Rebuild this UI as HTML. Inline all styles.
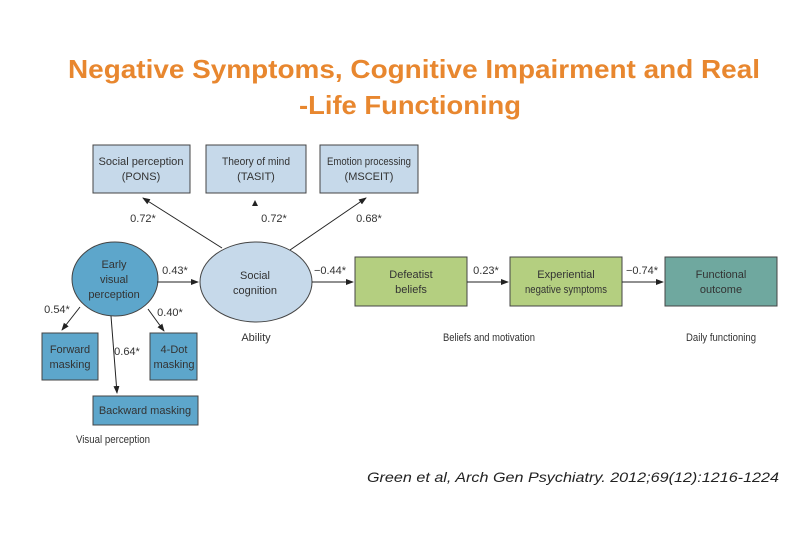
<!DOCTYPE html>
<html><head><meta charset="utf-8"><style>
html,body{margin:0;padding:0;background:#fff;}
svg{display:block;}
</style></head><body>
<svg width="810" height="540" viewBox="0 0 810 540" xmlns="http://www.w3.org/2000/svg">
<defs>
<marker id="a" markerWidth="8" markerHeight="8" refX="7" refY="4" orient="auto" markerUnits="userSpaceOnUse">
<path d="M0,1 L8,4 L0,7 z" fill="#222"/></marker>
</defs>
<g font-family="Liberation Sans, sans-serif" font-weight="bold" fill="#e8872f" font-size="26" text-anchor="middle">
<text x="414" y="78" textLength="692" lengthAdjust="spacingAndGlyphs">Negative Symptoms, Cognitive Impairment and Real</text>
<text x="410" y="114" textLength="222" lengthAdjust="spacingAndGlyphs">-Life Functioning</text>
</g>
<g stroke="#444" stroke-width="1">
<rect x="93" y="145" width="97" height="48" fill="#c6d9ea"/>
<rect x="206" y="145" width="100" height="48" fill="#c6d9ea"/>
<rect x="320" y="145" width="98" height="48" fill="#c6d9ea"/>
<ellipse cx="115" cy="279" rx="43" ry="37" fill="#5da6cb"/>
<ellipse cx="256" cy="282" rx="56" ry="40" fill="#c6d9ea"/>
<rect x="355" y="257" width="112" height="49" fill="#b4cf80"/>
<rect x="510" y="257" width="112" height="49" fill="#b4cf80"/>
<rect x="665" y="257" width="112" height="49" fill="#6fa89f"/>
<rect x="42" y="333" width="56" height="47" fill="#5da6cb"/>
<rect x="150" y="333" width="47" height="47" fill="#5da6cb"/>
<rect x="93" y="396" width="105" height="29" fill="#5da6cb"/>
</g>
<g stroke="#222" stroke-width="1" fill="none" marker-end="url(#a)">
<line x1="222" y1="248" x2="143" y2="198"/>
<line x1="290" y1="250" x2="366" y2="198"/>
<line x1="157" y1="282" x2="198" y2="282"/>
<line x1="312" y1="282" x2="353" y2="282"/>
<line x1="467" y1="282" x2="508" y2="282"/>
<line x1="622" y1="282" x2="663" y2="282"/>
<line x1="80" y1="307" x2="62" y2="330"/>
<line x1="148" y1="309" x2="164" y2="331"/>
<line x1="111" y1="316" x2="117" y2="393"/>
</g>
<path d="M255,200 L258,206 L252,206 z" fill="#222"/>
<g font-family="Liberation Sans, sans-serif" font-size="11" fill="#333" text-anchor="middle">
<text x="141" y="165" textLength="85" lengthAdjust="spacingAndGlyphs">Social perception</text>
<text x="141" y="180">(PONS)</text>
<text x="256" y="165" textLength="68" lengthAdjust="spacingAndGlyphs">Theory of mind</text>
<text x="256" y="180">(TASIT)</text>
<text x="369" y="165" textLength="84" lengthAdjust="spacingAndGlyphs">Emotion processing</text>
<text x="369" y="180">(MSCEIT)</text>
<text x="143" y="222">0.72*</text>
<text x="274" y="222">0.72*</text>
<text x="369" y="222">0.68*</text>
<text x="114" y="268">Early</text>
<text x="114" y="283">visual</text>
<text x="114" y="298">perception</text>
<text x="255" y="279">Social</text>
<text x="255" y="294">cognition</text>
<text x="175" y="274">0.43*</text>
<text x="330" y="274">−0.44*</text>
<text x="486" y="274">0.23*</text>
<text x="642" y="274">−0.74*</text>
<text x="411" y="278">Defeatist</text>
<text x="411" y="293">beliefs</text>
<text x="566" y="278">Experiential</text>
<text x="566" y="293" textLength="82" lengthAdjust="spacingAndGlyphs">negative symptoms</text>
<text x="721" y="278">Functional</text>
<text x="721" y="293">outcome</text>
<text x="57" y="313">0.54*</text>
<text x="170" y="316">0.40*</text>
<text x="127" y="355">0.64*</text>
<text x="70" y="353">Forward</text>
<text x="70" y="368">masking</text>
<text x="174" y="353">4-Dot</text>
<text x="174" y="368">masking</text>
<text x="145" y="414">Backward masking</text>
<text x="256" y="341">Ability</text>
<text x="489" y="341" textLength="92" lengthAdjust="spacingAndGlyphs">Beliefs and motivation</text>
<text x="721" y="341" textLength="70" lengthAdjust="spacingAndGlyphs">Daily functioning</text>
<text x="113" y="443" textLength="74" lengthAdjust="spacingAndGlyphs">Visual perception</text>
</g>
<text x="573" y="482" font-family="Liberation Sans, sans-serif" font-style="italic" font-size="14" fill="#222" text-anchor="middle" textLength="412" lengthAdjust="spacingAndGlyphs">Green et al, Arch Gen Psychiatry. 2012;69(12):1216-1224</text>
</svg>
</body></html>
